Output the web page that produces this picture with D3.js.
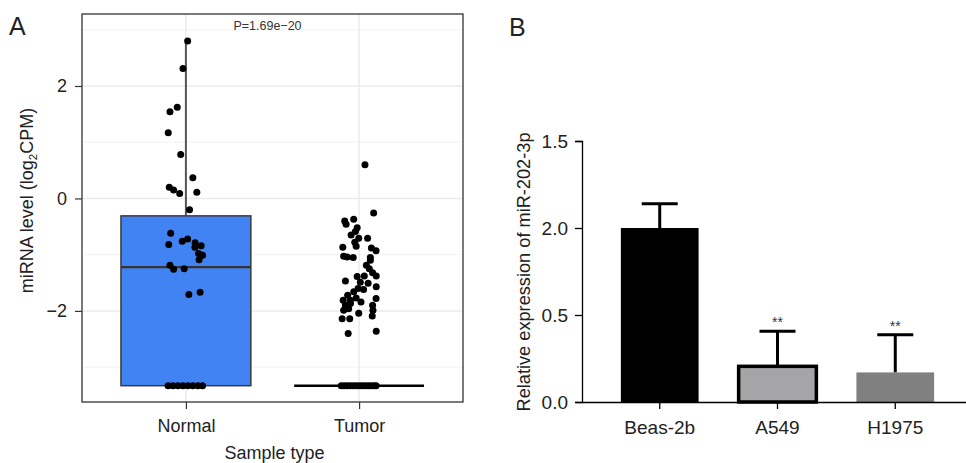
<!DOCTYPE html>
<html>
<head>
<meta charset="utf-8">
<script src="https://cdn.jsdelivr.net/npm/d3@7"></script>
<style>
  body { margin: 0; background: #fff; }
  text { font-family: "Liberation Sans", Arial, sans-serif; }
</style>
</head>
<body>
<svg id="chart" width="966" height="463"></svg>
<script>
// ---- panel A data (value, jitter in category units) ----
const groups = ["Normal", "Tumor"];
const boxLow = [-3.33, -3.33];
const boxQ1 = [-3.33, -3.33];
const boxMedian = [-1.22, -3.33];
const boxQ3 = [-0.31, -3.33];
const boxHigh = [2.80, -3.33];
const pValueLabel = "P=1.69e\u221220";

const normalPoints = [
  [2.80, 0.010], [2.31, -0.017], [1.62, -0.050], [1.54, -0.092], [1.17, -0.102],
  [0.78, -0.030], [0.37, 0.040], [0.20, -0.096], [0.15, -0.071], [0.09, -0.036],
  [0.11, 0.063], [-0.20, 0.021], [-0.62, -0.088], [-0.82, -0.099], [-0.76, -0.021],
  [-0.72, 0.010], [-0.79, 0.053], [-0.84, 0.088], [-0.87, 0.052], [-0.98, 0.073],
  [-1.01, 0.096], [-1.09, 0.076], [-1.19, -0.092], [-1.26, -0.071], [-1.25, -0.010],
  [-1.71, 0.017], [-1.67, 0.082],
  [-3.33, -0.103], [-3.33, -0.075], [-3.33, -0.046], [-3.33, -0.017],
  [-3.33, 0.011], [-3.33, 0.040], [-3.33, 0.069], [-3.33, 0.096]
];
const tumorPoints = [
  [0.60, 0.034], [-0.26, 0.084], [-0.40, -0.083], [-0.46, -0.075], [-0.37, -0.031],
  [-0.52, -0.011], [-0.59, -0.021], [-0.65, -0.046], [-0.71, -0.002], [-0.71, 0.049],
  [-0.78, -0.025], [-0.85, -0.017], [-0.87, -0.094], [-0.88, 0.071], [-0.93, 0.098],
  [-1.04, -0.069], [-1.05, -0.034], [-1.05, 0.065], [-1.03, -0.089], [-1.10, 0.065],
  [-1.19, 0.042], [-1.25, 0.059], [-1.32, 0.078], [-1.38, 0.099], [-1.38, 0.030],
  [-1.39, -0.011], [-1.47, -0.079], [-1.49, 0.007], [-1.51, 0.052], [-1.60, -0.006],
  [-1.57, 0.099], [-1.66, -0.031], [-1.62, 0.026], [-1.72, -0.066], [-1.81, -0.092],
  [-1.81, -0.050], [-1.77, -0.017], [-1.78, 0.098], [-1.90, -0.079], [-1.87, -0.050],
  [-1.84, 0.011], [-1.90, 0.078], [-1.99, -0.089], [-1.96, -0.060], [-1.99, 0.080],
  [-2.04, -0.002], [-2.14, -0.098], [-2.14, -0.054], [-2.09, 0.076], [-2.40, -0.063],
  [-2.36, 0.099],
  [-3.33, -0.103], [-3.33, -0.086], [-3.33, -0.069], [-3.33, -0.052], [-3.33, -0.034],
  [-3.33, -0.017], [-3.33, 0.000], [-3.33, 0.017], [-3.33, 0.034], [-3.33, 0.052],
  [-3.33, 0.069], [-3.33, 0.086], [-3.33, 0.098]
];
const yTicksA = [-2, 0, 2];
const yMinorA = [-3, -1, 1, 3];

// ---- panel B data ----
const cellLines = ["Beas-2b", "A549", "H1975"];
const expression = [1.0, 0.205, 0.17];
const errorTop = [1.14, 0.406, 0.387];
const sigMarks = ["", "**", "**"];
const yTicksB = [0, 0.5, 1.0, 1.5];
const yTickLabelsB = ["0.0", "0.5", "2.0", "1.5"];

const svg = d3.select("#chart");
svg.append("rect").attr("width", 966).attr("height", 463).attr("fill", "#fff");

// ================= Panel A =================
const A = { left: 82, right: 463, top: 14, bottom: 402 };
const xA = d3.scaleLinear().domain([0.4, 2.6]).range([A.left, A.right]);
const yA = d3.scaleLinear().domain([-3.62, 3.28]).range([A.bottom, A.top]);
const boxW = 0.75;

const gA = svg.append("g");
// grid
gA.selectAll(".minor").data(yMinorA).enter().append("line")
  .attr("x1", A.left).attr("x2", A.right)
  .attr("y1", d => yA(d)).attr("y2", d => yA(d))
  .attr("stroke", "#f2f2f2").attr("stroke-width", 1);
gA.selectAll(".major").data(yTicksA).enter().append("line")
  .attr("x1", A.left).attr("x2", A.right)
  .attr("y1", d => yA(d)).attr("y2", d => yA(d))
  .attr("stroke", "#ebebeb").attr("stroke-width", 1.5);
gA.selectAll(".vgrid").data(groups).enter().append("line")
  .attr("x1", (d, i) => xA(i + 1)).attr("x2", (d, i) => xA(i + 1))
  .attr("y1", A.top).attr("y2", A.bottom)
  .attr("stroke", "#ebebeb").attr("stroke-width", 1.5);

// boxes
groups.forEach((g, i) => {
  const cx = xA(i + 1);
  const x0 = xA(i + 1 - boxW / 2), x1 = xA(i + 1 + boxW / 2);
  // whiskers
  gA.append("line").attr("x1", cx).attr("x2", cx)
    .attr("y1", yA(boxQ3[i])).attr("y2", yA(boxHigh[i]))
    .attr("stroke", "#555").attr("stroke-width", 2);
  gA.append("line").attr("x1", cx).attr("x2", cx)
    .attr("y1", yA(boxQ1[i])).attr("y2", yA(boxLow[i]))
    .attr("stroke", "#555").attr("stroke-width", 2);
  gA.append("rect")
    .attr("x", x0).attr("width", x1 - x0)
    .attr("y", yA(boxQ3[i])).attr("height", yA(boxQ1[i]) - yA(boxQ3[i]))
    .attr("fill", "#4283f3").attr("stroke", "#3a3a3a").attr("stroke-width", 1.5);
  gA.append("line").attr("x1", x0).attr("x2", x1)
    .attr("y1", yA(boxMedian[i])).attr("y2", yA(boxMedian[i]))
    .attr("stroke", i === 0 ? "#333" : "#000").attr("stroke-width", i === 0 ? 2.2 : 2.6);
});

// jittered points
[normalPoints, tumorPoints].forEach((pts, i) => {
  gA.selectAll(null).data(pts).enter().append("circle")
    .attr("cx", d => xA(i + 1 + d[1]))
    .attr("cy", d => yA(d[0]))
    .attr("r", 3.5)
    .attr("fill", "#000");
});

// frame
gA.append("rect").attr("x", A.left).attr("y", A.top)
  .attr("width", A.right - A.left).attr("height", A.bottom - A.top)
  .attr("fill", "none").attr("stroke", "#333").attr("stroke-width", 1.3);

// axes
const yAxisA = d3.axisLeft(yA).tickValues(yTicksA).tickSize(7).tickPadding(8)
  .tickFormat(d => d < 0 ? "\u2212" + Math.abs(d) : d);
const gyA = gA.append("g").attr("transform", `translate(${A.left},0)`).call(yAxisA);
gyA.select(".domain").remove();
gyA.selectAll("line").attr("stroke", "#333").attr("stroke-width", 1.2);
gyA.selectAll("text").attr("font-size", 18).attr("fill", "#222")
  .attr("font-family", "Liberation Sans, Arial, sans-serif");

const xAxisA = d3.axisBottom(xA).tickValues([1, 2]).tickSize(7).tickPadding(10)
  .tickFormat(d => groups[d - 1]);
const gxA = gA.append("g").attr("transform", `translate(0,${A.bottom})`).call(xAxisA);
gxA.select(".domain").remove();
gxA.selectAll("line").attr("stroke", "#333").attr("stroke-width", 1.2);
gxA.selectAll("text").attr("font-size", 18).attr("fill", "#222")
  .attr("font-family", "Liberation Sans, Arial, sans-serif");

gA.append("text").attr("x", (A.left + A.right) / 2 - 5).attr("y", 30)
  .attr("text-anchor", "middle").attr("font-size", 12.5).attr("fill", "#333")
  .text(pValueLabel);

gA.append("text").attr("x", (A.left + A.right) / 2 + 2).attr("y", 459)
  .attr("text-anchor", "middle").attr("font-size", 18).attr("fill", "#222")
  .text("Sample type");

const ytA = gA.append("text")
  .attr("transform", `translate(33,${yA(0) + 2}) rotate(-90)`)
  .attr("text-anchor", "middle").attr("font-size", 18).attr("fill", "#222");
ytA.append("tspan").text("miRNA level (log");
ytA.append("tspan").attr("font-size", 11.5).attr("dy", 4).text("2");
ytA.append("tspan").attr("dy", -4).text("CPM)");

svg.append("text").attr("x", 9).attr("y", 35).attr("font-size", 25).attr("fill", "#222").text("A");

// ================= Panel B =================
const B = { left: 582, right: 973, top: 141, bottom: 402 };
const xB = d3.scaleBand().domain(cellLines).range([B.left, B.right])
  .paddingInner(0.34).paddingOuter(0.33);
const yB = d3.scaleLinear().domain([0, 1.5]).range([B.bottom, B.top]);
const barFill = ["#000000", "#a5a5a8", "#808080"];

const gB = svg.append("g");

// error bars
gB.selectAll(".err").data(cellLines).enter().append("line")
  .attr("x1", d => xB(d) + xB.bandwidth() / 2).attr("x2", d => xB(d) + xB.bandwidth() / 2)
  .attr("y1", (d, i) => yB(expression[i])).attr("y2", (d, i) => yB(errorTop[i]))
  .attr("stroke", "#000").attr("stroke-width", 3);
gB.selectAll(".cap").data(cellLines).enter().append("line")
  .attr("x1", d => xB(d) + xB.bandwidth() / 2 - 18).attr("x2", d => xB(d) + xB.bandwidth() / 2 + 18)
  .attr("y1", (d, i) => yB(errorTop[i])).attr("y2", (d, i) => yB(errorTop[i]))
  .attr("stroke", "#000").attr("stroke-width", 3);

// bars
gB.selectAll(".bar").data(cellLines).enter().append("rect")
  .attr("x", d => xB(d)).attr("width", xB.bandwidth())
  .attr("y", (d, i) => yB(expression[i]))
  .attr("height", (d, i) => yB(0) - yB(expression[i]))
  .attr("fill", (d, i) => barFill[i])
  .attr("stroke", (d, i) => i === 1 ? "#000" : "none")
  .attr("stroke-width", 3.5);

gB.selectAll(".sig").data(cellLines).enter().append("text")
  .attr("x", d => xB(d) + xB.bandwidth() / 2)
  .attr("y", (d, i) => yB(errorTop[i]) - 4)
  .attr("text-anchor", "middle").attr("font-size", 14).attr("fill", "#333")
  .text((d, i) => sigMarks[i]);

// axes
const yAxisB = d3.axisLeft(yB).tickValues(yTicksB).tickSize(7).tickPadding(7)
  .tickFormat((d, i) => yTickLabelsB[i]);
const gyB = gB.append("g").attr("transform", `translate(${B.left},0)`).call(yAxisB);
gyB.select(".domain").attr("stroke", "#000").attr("stroke-width", 1.3);
gyB.selectAll(".tick line").attr("stroke", "#000").attr("stroke-width", 1.3);
gyB.selectAll("text").attr("font-size", 19).attr("fill", "#222")
  .attr("font-family", "Liberation Sans, Arial, sans-serif");

const gxB = gB.append("g").attr("transform", `translate(0,${B.bottom})`)
  .call(d3.axisBottom(xB).tickSize(7).tickPadding(12).tickSizeOuter(0));
gxB.select(".domain").attr("stroke", "#000").attr("stroke-width", 1.3);
gxB.selectAll(".tick line").attr("stroke", "#000").attr("stroke-width", 1.3);
gxB.selectAll("text").attr("font-size", 19).attr("fill", "#222")
  .attr("font-family", "Liberation Sans, Arial, sans-serif");

gB.append("text")
  .attr("transform", `translate(530,272) rotate(-90)`)
  .attr("text-anchor", "middle").attr("font-size", 18.2).attr("fill", "#222")
  .text("Relative expression of miR-202-3p");

svg.append("text").attr("x", 509).attr("y", 36).attr("font-size", 25).attr("fill", "#222").text("B");
</script>
</body>
</html>
